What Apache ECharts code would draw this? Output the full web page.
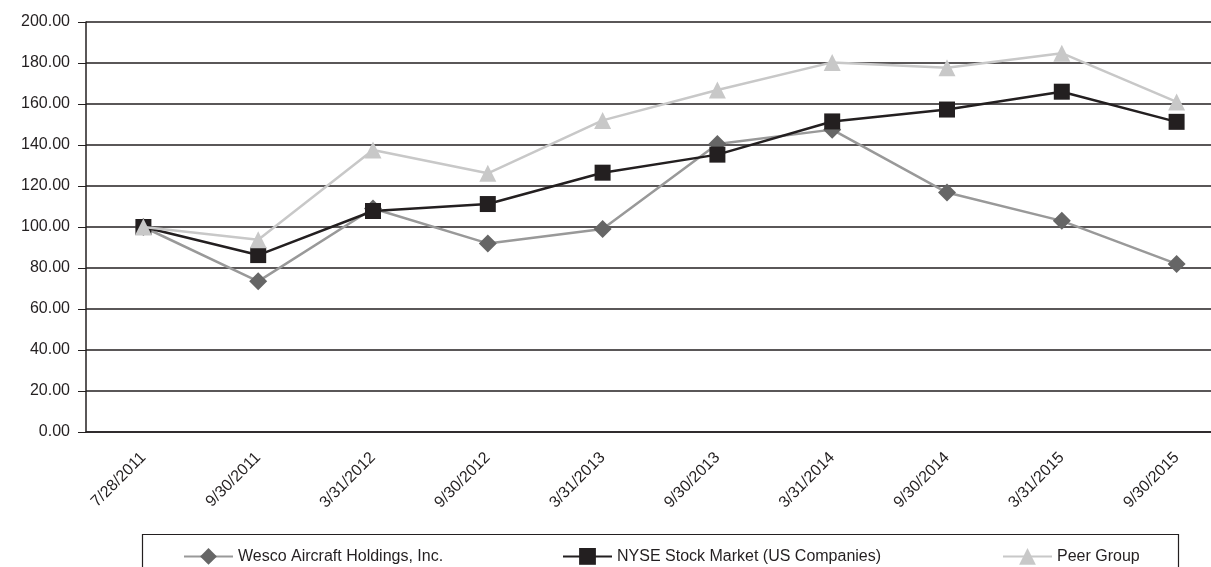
<!DOCTYPE html>
<html>
<head>
<meta charset="utf-8">
<title>Wesco performance graph</title>
<script src="https://cdn.jsdelivr.net/npm/echarts@6/dist/echarts.min.js"></script>
<style>
  html, body { margin: 0; padding: 0; background: #fff; }
  #main { width: 1211px; height: 567px; }
</style>
</head>
<body>
<div id="main"></div>
<script>
// dates on the x axis
var dates = ['7/28/2011', '9/30/2011', '3/31/2012', '9/30/2012', '3/31/2013',
             '9/30/2013', '3/31/2014', '9/30/2014', '3/31/2015', '9/30/2015'];
// series values
var wesco = [100, 73.5, 109, 92, 99, 140.5, 147.5, 116.8, 103, 82];
var nyse  = [100, 86.3, 107.8, 111.2, 126.5, 135.3, 151.5, 157.3, 166, 151.3];
var peer  = [100, 93.8, 137.6, 126.2, 152, 166.8, 180.3, 177.7, 184.8, 161];

var ink = '#231f20';
var font = 'Liberation Sans';

var myChart = echarts.init(document.getElementById('main'));

// one legend per item so each sits where it does in the original
function legendAt(name, left) {
  return {
    data: [name],
    left: left,
    top: 543,
    itemWidth: 49,
    itemHeight: 21,
    textStyle: { fontFamily: font, fontSize: 16, color: ink }
  };
}

var option = {
  animation: false,
  backgroundColor: '#fff',
  // plot runs past the right edge of the page, as in the original
  grid: { left: 86, width: 1148, top: 22, bottom: 135, outerBoundsMode: 'none', containLabel: false },
  legend: [
    legendAt('Wesco Aircraft Holdings, Inc.', 178),
    legendAt('NYSE Stock Market (US Companies)', 557),
    legendAt('Peer Group', 997)
  ],
  graphic: [{
    type: 'rect',
    shape: { x: 142.5, y: 534.5, width: 1036, height: 50 },
    style: { fill: 'none', stroke: ink, lineWidth: 1.2 }
  }],
  xAxis: {
    type: 'category',
    data: dates,
    boundaryGap: true,
    axisLine: { lineStyle: { color: ink, width: 1.5 } },
    axisTick: { inside: true, alignWithLabel: true, length: 8, lineStyle: { color: ink } },
    axisLabel: { rotate: 45, margin: 23, color: ink, fontFamily: font, fontSize: 16 }
  },
  yAxis: {
    type: 'value',
    min: 0,
    max: 200,
    interval: 20,
    axisLine: { show: true, lineStyle: { color: ink, width: 1.5 } },
    axisTick: { show: true, length: 8, lineStyle: { color: ink } },
    axisLabel: {
      color: ink, fontFamily: font, fontSize: 16, margin: 16,
      formatter: function (v) { return v.toFixed(2); }
    },
    splitLine: { lineStyle: { color: ink, width: 1.5 } }
  },
  series: [
    {
      name: 'Wesco Aircraft Holdings, Inc.',
      type: 'line',
      data: wesco,
      symbol: 'diamond',
      symbolSize: 18,
      lineStyle: { color: '#999999', width: 2.5 },
      itemStyle: { color: '#666666' },
      z: 3
    },
    {
      name: 'NYSE Stock Market (US Companies)',
      type: 'line',
      data: nyse,
      symbol: 'rect',
      symbolSize: 16,
      lineStyle: { color: ink, width: 2.5 },
      itemStyle: { color: ink },
      z: 4
    },
    {
      name: 'Peer Group',
      type: 'line',
      data: peer,
      symbol: 'triangle',
      symbolSize: 17,
      lineStyle: { color: '#c8c8c8', width: 2.5 },
      itemStyle: { color: '#c8c8c8' },
      z: 5
    }
  ]
};

myChart.setOption(option);
</script>
</body>
</html>
